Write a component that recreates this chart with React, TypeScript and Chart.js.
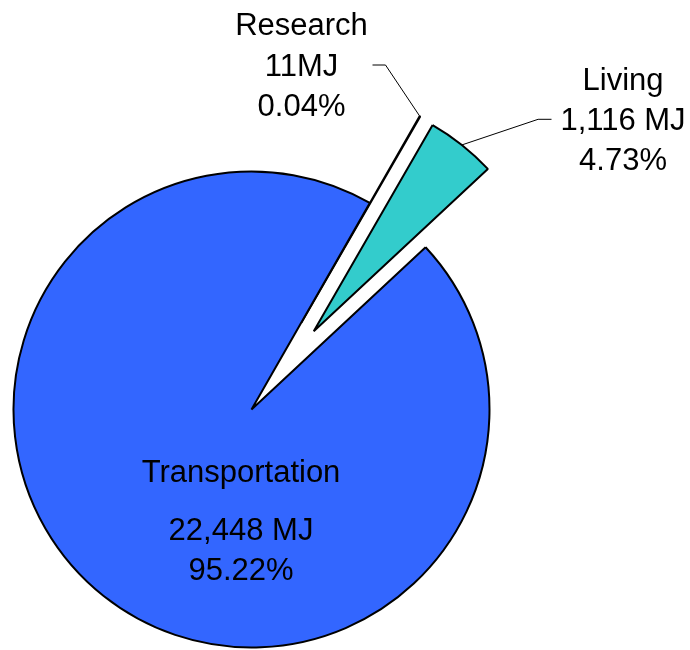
import React, { useEffect, useRef } from 'react';
import { Chart, registerables } from 'chart.js';

Chart.register(...registerables);

// ---- Data ----
const categories = ['Research', 'Living', 'Transportation'];
const energyMJ = [11, 1116, 22448];
const valueLabels = ['11MJ', '1,116 MJ', '22,448 MJ'];
const percentLabels = ['0.04%', '4.73%', '95.22%'];

// ---- Styles ----
const sliceColors = ['#FFFFFF', '#33CCCC', '#3366FF'];
const explodeDistances = [100, 100, 0];
const FONT = '31px "Liberation Sans", Arial, Helvetica, sans-serif';

// label layout relative to the pie centre (style / layout only)
const labelLayouts = [
  { dx: 50, baselines: [-374.5, -333.5, -293.5], leader: { dx: 71, dy: -344.5, run: 13 } },
  { dx: 371.5, baselines: [-319.5, -279.5, -239.5], leader: { dx: -71.5, dy: -290.2, run: -13.4 } },
  { dx: -10.5, baselines: [72, 130.5, 170.5], leader: null },
];

const explodePlugin = {
  id: 'explodeSlices',
  beforeDatasetDraw(chart: any, args: any) {
    const ctx = chart.ctx;
    const ds = chart.data.datasets[args.index];
    const ex: number[] = ds.explode || [];
    args.meta.data.forEach((arc: any, i: number) => {
      const e = ex[i] || 0;
      const mid = (arc.startAngle + arc.endAngle) / 2;
      ctx.save();
      ctx.translate(Math.cos(mid) * e, Math.sin(mid) * e);
      arc.draw(ctx);
      ctx.restore();
    });
    return false;
  },
};

const labelPlugin = {
  id: 'sliceLabels',
  afterDatasetsDraw(chart: any) {
    const ctx = chart.ctx;
    const meta = chart.getDatasetMeta(0);
    const ds = chart.data.datasets[0];
    const ex: number[] = ds.explode || [];
    ctx.save();
    ctx.font = FONT;
    ctx.fillStyle = '#000000';
    ctx.textAlign = 'center';
    ctx.textBaseline = 'alphabetic';
    meta.data.forEach((arc: any, i: number) => {
      const L = labelLayouts[i];
      const cx = arc.x;
      const cy = arc.y;
      const ax = cx + L.dx;
      const lines = [chart.data.labels[i], valueLabels[i], percentLabels[i]];
      lines.forEach((t: string, k: number) => ctx.fillText(t, ax, cy + L.baselines[k]));
      if (L.leader) {
        const mid = (arc.startAngle + arc.endAngle) / 2;
        const e = ex[i] || 0;
        const r = arc.outerRadius;
        const endX = cx + Math.cos(mid) * (e + r);
        const endY = cy + Math.sin(mid) * (e + r);
        const sx = ax + L.leader.dx;
        const sy = cy + L.leader.dy;
        ctx.beginPath();
        ctx.strokeStyle = '#000000';
        ctx.lineWidth = 1;
        ctx.moveTo(sx, sy);
        ctx.lineTo(sx + L.leader.run, sy);
        ctx.lineTo(endX, endY);
        ctx.stroke();
      }
    });
    ctx.restore();
  },
};

export default function App() {
  const canvasRef = useRef<HTMLCanvasElement | null>(null);

  useEffect(() => {
    if (!canvasRef.current) return;
    const chart = new Chart(canvasRef.current, {
      type: 'pie',
      data: {
        labels: categories,
        datasets: [
          {
            data: energyMJ,
            backgroundColor: sliceColors,
            borderColor: '#000000',
            borderWidth: 2,
            radius: 238,
            explode: explodeDistances,
          } as any,
        ],
      },
      options: {
        responsive: false,
        animation: false,
        rotation: 29.8,
        layout: { padding: { left: 0, right: 187, top: 169, bottom: 0 } },
        plugins: {
          legend: { display: false },
          title: { display: false },
          tooltip: { enabled: false },
        },
        events: [],
      } as any,
      plugins: [explodePlugin, labelPlugin],
    });
    return () => chart.destroy();
  }, []);

  return (
    <div style={{ position: 'absolute', left: 0, top: 0, width: 690, height: 650, background: '#ffffff' }}>
      <canvas ref={canvasRef} width={690} height={650} />
    </div>
  );
}
